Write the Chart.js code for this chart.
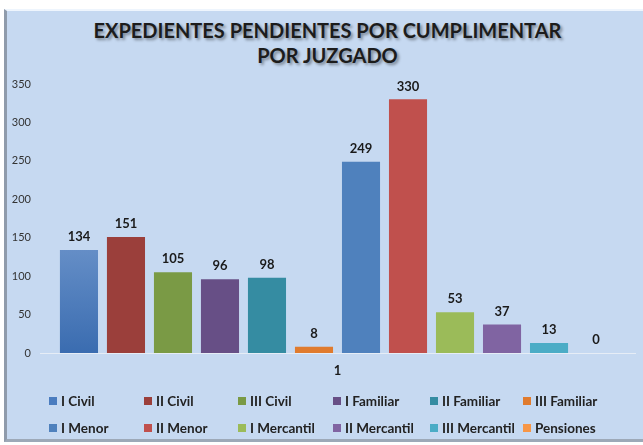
<!DOCTYPE html>
<html>
<head>
<meta charset="utf-8">
<script src="https://cdn.jsdelivr.net/npm/chart.js@4.4.0/dist/chart.umd.min.js"></script>
<style>
	body { margin: 0; background: #fff; width: 643px; height: 445px; overflow: hidden; position: relative; font-family: Lato, "Open Sans", sans-serif; }
	#panel { position: absolute; left: 4px; top: 9px; width: 660px; height: 428px; background: #c6d9f1; border-left: 3px solid #8f9bab; border-top: 2px solid #eef5fd; border-bottom: 3px solid #9da9b8; }
	#titulo { position: absolute; left: 0; top: 18px; width: 655px; text-align: center; font-weight: bold; font-size: 20px; line-height: 25px; color: #1c1c1c; text-shadow: 2px 2px 3px rgba(0,0,0,0.4); }
	#wrap { position: absolute; left: 0; top: 0; width: 643px; height: 445px; }
	.item { position: absolute; font-weight: bold; font-size: 13.5px; color: #222; white-space: nowrap; line-height: 16px; }
	.item span { position: absolute; left: -12px; top: 4px; width: 8px; height: 8px; }
</style>
</head>
<body>
<div id="panel"></div>
<div id="titulo">EXPEDIENTES PENDIENTES POR CUMPLIMENTAR<br>POR JUZGADO</div>
<div id="wrap"><canvas id="grafica" width="643" height="445"></canvas></div>
<div id="leyenda"></div>
<script>
var categorias = ['1'];
var juzgados = ['I Civil', 'II Civil', 'III Civil', 'I Familiar', 'II Familiar', 'III Familiar',
	'I Menor', 'II Menor', 'I Mercantil', 'II Mercantil', 'III Mercantil', 'Pensiones'];
var pendientes = [134, 151, 105, 96, 98, 8, 249, 330, 53, 37, 13, 0];
var colores = ['#4a7cbf', '#9b3f3b', '#7a9a45', '#674f86', '#358ca2', '#e07b2e',
	'#4f81bd', '#c0504d', '#9bbb59', '#8064a2', '#4bacc6', '#f79646'];

var datasets = [];
for (var i in juzgados) {
	datasets.push({
		label: juzgados[i],
		data: [pendientes[i]],
		backgroundColor: colores[i]
	});
}

// primer juzgado con degradado como en el original
datasets[0].backgroundColor = function(c) {
	var area = c.chart.chartArea;
	if (!area) return colores[0];
	var g = c.chart.ctx.createLinearGradient(0, area.top + 150, 0, area.bottom);
	g.addColorStop(0, '#6b93ca');
	g.addColorStop(1, '#3a6cb0');
	return g;
};

var etiquetas = {
	id: 'etiquetas',
	afterDatasetsDraw: function(chart) {
		var ctx = chart.ctx;
		ctx.save();
		ctx.font = 'bold 13px Lato';
		ctx.fillStyle = '#1a1a1a';
		ctx.textAlign = 'center';
		ctx.textBaseline = 'middle';
		chart.data.datasets.forEach(function(ds, i) {
			var bar = chart.getDatasetMeta(i).data[0];
			ctx.fillText(ds.data[0], bar.x, bar.y - 13);
		});
		ctx.restore();
	}
};

var grafica = new Chart(document.getElementById('grafica'), {
	type: 'bar',
	data: { labels: categorias, datasets: datasets },
	options: {
		responsive: false,
		animation: false,
		layout: { padding: { top: 84, left: 6, right: 8, bottom: 67 } },
		datasets: { bar: { categoryPercentage: 0.948, barPercentage: 0.81 } },
		plugins: { legend: { display: false }, tooltip: { enabled: false } },
		scales: {
			x: {
				grid: { display: false, drawTicks: false },
				border: { display: true, color: '#e6edf6', width: 1 },
				ticks: { color: '#1a1a1a', font: { family: 'Lato', size: 13, weight: 'bold' }, padding: 10 },
				afterFit: function(s) { s.height = 25; }
			},
			y: {
				min: 0, max: 350,
				grid: { display: false, drawTicks: false },
				border: { display: false },
				ticks: { stepSize: 50, color: '#333', font: { family: 'Lato', size: 11 }, padding: 9 },
				afterFit: function(s) { s.width = 34; }
			}
		}
	},
	plugins: [etiquetas]
});

var columnas = [61, 156, 250, 345, 442, 535];
var filas = [393, 420];
var leyenda = document.getElementById('leyenda');
grafica.data.datasets.forEach(function(ds, i) {
	var d = document.createElement('div');
	d.className = 'item';
	d.style.left = columnas[i % 6] + 'px';
	d.style.top = filas[Math.floor(i / 6)] + 'px';
	d.innerHTML = '<span style="background:' + colores[i] + '"></span>' + ds.label;
	leyenda.appendChild(d);
});
</script>
</body>
</html>
